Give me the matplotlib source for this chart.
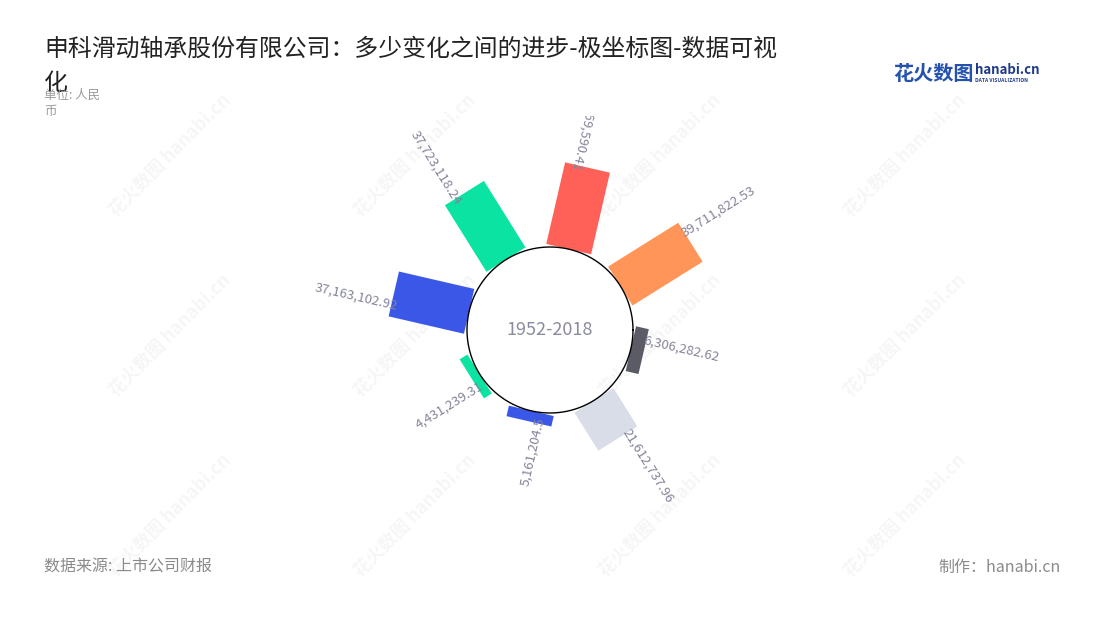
import numpy as np
import matplotlib
matplotlib.use('Agg')
import matplotlib.pyplot as plt
from matplotlib.transforms import Bbox, TransformedBbox

plt.rcParams['font.family'] = ['Noto Sans CJK SC', 'DejaVu Sans']

############################################
### data (clockwise, starting at the left)
############################################
values = [37163102.92, 37723118.24, 40269590.41, 39711822.53,
          6306282.62, 21612737.96, 5161204.5, 4431239.31]
colors = ['#3B57E8', '#0BE3A3', '#FF6159', '#FF9559',
          '#5B5B66', '#D9DDE8', '#3B57E8', '#0BE3A3']
period = '1952-2018'
title = '申科滑动轴承股份有限公司：多少变化之间的进步-极坐标图-数据可视\n化'
unit = '单位: 人民\n币'
source = '数据来源: 上市公司财报'
maker = '制作：hanabi.cn'

W, H = 1100, 620
fig = plt.figure(figsize=(W / 100, H / 100), dpi=100)

### polar axes, 1 radial unit = 1 million
R_PX = 230
cx, cy = 550, 330
px = 2.08              # pixels per million
hole = 83 / px         # inner circle
half_w = 23 / px       # half bar width
ax = fig.add_axes([(cx - R_PX) / W, (H - cy - R_PX) / H, 2 * R_PX / W, 2 * R_PX / H],
                  projection='polar')
ax.set_ylim(0, R_PX / px)
ax.axis('off')

n = len(values)
theta = np.deg2rad(167 - 45 * np.arange(n))

# labels above this line are cut off, as in the original
clip = TransformedBbox(Bbox([[0, 0], [1, (H - 116) / H]]), fig.transFigure)

for th, v, c in zip(theta, values, colors):
    L = v / 1e6
    d = np.array([hole, hole, hole + L, hole + L])
    off = np.array([-half_w, half_w, half_w, -half_w])
    ax.fill(th + np.arctan2(off, d), np.hypot(d, off), color=c, lw=0, zorder=2)

    # value label along the bar
    ang = (np.rad2deg(th) + 180) % 360 - 180
    flip = ang > 60 or ang < -90
    d_end = hole + L - (6 if flip else 3) / px
    lat = 11 / px
    s = f'{v:,.2f}'.rstrip('0').rstrip('.')
    t = ax.text(th + np.arctan2(lat, d_end), np.hypot(d_end, lat), s,
                rotation=ang + 180 if flip else ang, rotation_mode='anchor',
                ha='right' if flip else 'left', va='center',
                fontsize=9.5, color='#83839A', zorder=4)
    t.set_clip_box(clip)
    t.set_clip_on(True)

tt = np.linspace(0, 2 * np.pi, 361)
ax.plot(tt, np.full_like(tt, hole), color='black', lw=1, zorder=3)
ax.text(0, 0, period, ha='center', va='center', fontsize=13, color='#8B8BA0')

############################################
### watermark, titles, logo
############################################
for x in [170, 415, 660, 905]:
    for y in [155, 335, 515]:
        fig.text(x / W, 1 - y / H, '花火数图 hanabi.cn', rotation=45, ha='center',
                 va='center', fontsize=13, fontweight='bold', color='black',
                 alpha=0.04, zorder=-1)

fig.text(44 / W, 1 - 38 / H, title, ha='left', va='top', fontsize=17.2,
         color='#222222', linespacing=1.6)
fig.text(44 / W, 1 - 89 / H, unit, ha='left', va='top', fontsize=9,
         color='#9A9A9A', linespacing=1.3)
fig.text(44 / W, 1 - 567 / H, source, ha='left', va='center', fontsize=11.5, color='#8A8A8A')
fig.text(1061 / W, 1 - 567 / H, maker, ha='right', va='center', fontsize=11.5, color='#8A8A8A')

fig.text(893 / W, 1 - 73 / H, '花火数图', ha='left', va='center', fontsize=14.5,
         fontweight='bold', color='#2452AD')
fig.text(975 / W, 1 - 70 / H, 'hanabi.cn', ha='left', va='center', fontsize=9.5,
         fontweight='bold', color='#1E3A8A')
fig.text(975 / W, 1 - 80 / H, 'DATA VISUALIZATION', ha='left', va='center', fontsize=3.6,
         fontweight='bold', color='#1E3A8A')

plt.savefig('out.png', dpi=100)
plt.close()
